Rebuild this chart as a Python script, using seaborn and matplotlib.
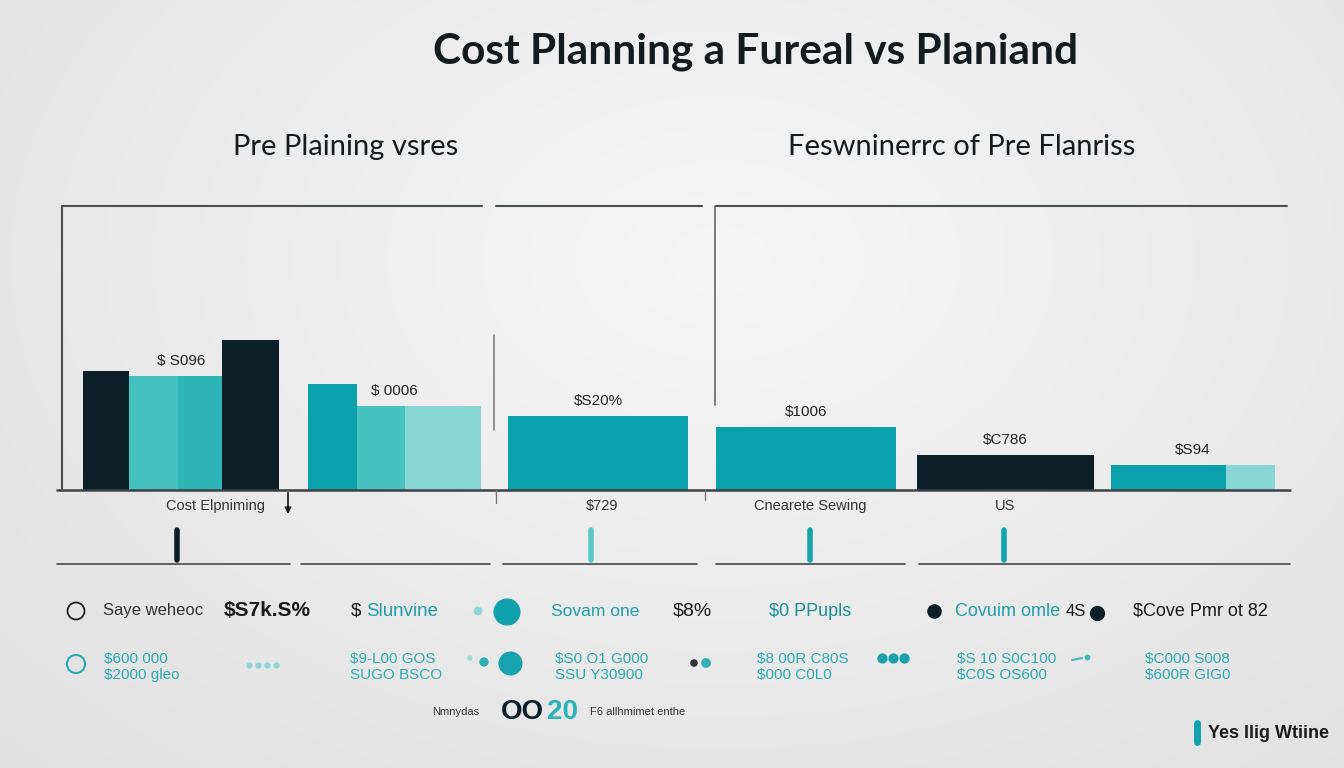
import numpy as np
import matplotlib
matplotlib.use('Agg')
import matplotlib.pyplot as plt
import seaborn as sns

TITLE = 'Cost Planning a Fureal vs Planiand'
SUBTITLES = ['Pre Plaining vsres', 'Feswninerrc of Pre Flanriss']

# bar segments: group, kind, x extent on the chart scale, cost ($k)
seg_group = [0, 0, 0, 0, 1, 1, 1, 2, 3, 4, 5, 5]
seg_kind = ['at_need', 'pre_a', 'pre_b', 'at_need', 'plan', 'pre_a', 'pre_c',
            'plan', 'plan', 'at_need', 'plan', 'pre_c']
seg_start = [23, 69, 118, 162, 248, 297, 345, 448, 656, 857, 1051, 1166]
seg_span = [46, 49, 44, 57, 49, 48, 76, 180, 180, 177, 115, 49]
seg_cost = [5.95, 5.7, 5.7, 7.5, 5.3, 4.2, 4.2, 3.7, 3.15, 1.75, 1.25, 1.25]
group_labels = ['$ S096', '$ 0006', '$S20%', '$1006', '$C786', '$S94']

sub_labels = ['Cost Elpniming', '$729', 'Cnearete Sewing', 'US']

row1_texts = ['Saye weheoc', '$S7k.S%', 'Slunvine', 'Sovam one', '$8%',
              '$0 PPupls', 'Covuim omle', '4S', '$Cove Pmr ot 82']
row2_texts = ['$600 000\n$2000 gleo', '$9-L00 GOS\nSUGO BSCO', '$S0 O1 G000\nSSU Y30900',
              '$8 00R C80S\n$000 C0L0', '$S 10 S0C100\n$C0S OS600', '$C000 S008\n$600R GIG0']
row3_texts = ['Nmnydas', 'OO', '20', 'F6 allhmimet enthe']
corner_text = 'Yes llig Wtiine'

DARK = '#0c1f29'
TEAL = '#0aa1ad'
TEXT_TEAL = '#1f9fa9'
KIND_COLORS = {'at_need': DARK, 'plan': TEAL, 'pre_a': '#45c1c0',
               'pre_b': '#2db6b5', 'pre_c': '#88d6d5'}

sns.set_theme(style='white')
plt.rcParams['font.family'] = ['Liberation Sans', 'DejaVu Sans']

W, H = 1344, 768
fig = plt.figure(figsize=(13.44, 7.68), dpi=100)

# background: soft radial gradient
bg = fig.add_axes([0, 0, 1, 1], zorder=0)
yy, xx = np.mgrid[0:H, 0:W]
r = np.sqrt(((xx - 720) / 900.0) ** 2 + ((yy - 260) / 620.0) ** 2)
shade = np.clip(0.965 - 0.075 * r, 0.86, 0.97)
bg.imshow(np.dstack([shade, shade, shade + 0.003]).clip(0, 1), aspect='auto',
          extent=[0, W, H, 0])
bg.axis('off')

# bar chart
ax = fig.add_axes([60 / W, 1 - 490 / H, 1230 / W, 284 / H], zorder=2)
ax.set_facecolor('none')
ax.bar(seg_start, seg_cost, width=seg_span, align='edge',
       color=[KIND_COLORS[k] for k in seg_kind], linewidth=0)
ax.set_xlim(0, 1230)
ax.set_ylim(0, 14.2)
ax.set_xticks([])
ax.set_yticks([])
for s in ax.spines.values():
    s.set_visible(False)

groups = np.array(seg_group)
starts = np.array(seg_start)
ends = starts + np.array(seg_span)
costs = np.array(seg_cost)
for g, lab in enumerate(group_labels):
    m = groups == g
    cx = (starts[m].min() + ends[m].max()) / 2
    ax.text(cx, costs[m].min() + 0.75, lab, ha='center', va='center',
            fontsize=11, color='#222222')

# overlay in pixel coordinates for frame lines and annotations
ov = fig.add_axes([0, 0, 1, 1], zorder=3)
ov.set_xlim(0, W)
ov.set_ylim(H, 0)
ov.axis('off')
ov.set_facecolor('none')

line_c = '#4a4f52'
ov.plot([57, 1290], [490, 490], color='#3c4245', lw=1.8)
ov.plot([62, 62], [206, 490], color=line_c, lw=1.5)
for x0, x1 in [(62, 482), (496, 702), (716, 1287)]:
    ov.plot([x0, x1], [206, 206], color=line_c, lw=1.5)
ov.plot([494, 494], [335, 430], color='#777777', lw=1.1)
ov.plot([715, 715], [206, 405], color='#666666', lw=1.2)
ov.plot([496, 496], [490, 503], color='#777777', lw=1)
ov.plot([705, 705], [490, 500], color='#777777', lw=1)
ov.annotate('', xy=(288, 517), xytext=(288, 490),
            arrowprops=dict(arrowstyle='-|>', color='#222222', lw=1.3, mutation_scale=9))

for txt, x in zip(sub_labels, [216, 602, 810, 1005]):
    ov.text(x, 506, txt, ha='center', va='center', fontsize=10.5, color='#333333')

for x, c in [(177, DARK), (591, '#5cc8c9'), (810, '#15a3ae'), (1004, '#15a3ae')]:
    ov.plot([x, x], [530, 560], color=c, lw=4, solid_capstyle='round')
for x0, x1 in [(57, 290), (301, 490), (503, 697), (716, 905), (919, 1290)]:
    ov.plot([x0, x1], [564, 564], color='#555555', lw=1.3)

# legend-like rows
y1 = 611
ov.scatter([76], [y1], s=150, facecolors='none', edgecolors='#222222', linewidths=1.3)
ov.text(103, y1, row1_texts[0], va='center', fontsize=12, color='#333333')
ov.text(224, y1, row1_texts[1], va='center', fontsize=15, fontweight='bold', color='#1a1a1a')
ov.text(351, y1, '$', va='center', fontsize=13.5, color='#1a1a1a')
ov.text(366, y1, row1_texts[2], va='center', fontsize=13.5, color=TEXT_TEAL)
sns.scatterplot(x=[478, 507], y=[y1, y1 + 1], size=[1, 2], sizes=(40, 380),
                hue=[0, 1], palette=['#8fd6d6', '#11a1ad'], legend=False, ax=ov,
                linewidth=0)
ov.text(551, y1, row1_texts[3], va='center', fontsize=12.5, color=TEXT_TEAL)
ov.text(673, y1, row1_texts[4], va='center', fontsize=14, color='#1a1a1a')
ov.text(769, y1, row1_texts[5], va='center', fontsize=13, color='#1b8f99')
ov.scatter([934], [y1], s=110, color=DARK, linewidths=0)
ov.text(955, y1, row1_texts[6], va='center', fontsize=13, color=TEXT_TEAL)
ov.text(1066, y1, row1_texts[7], va='center', fontsize=12, color='#1a1a1a')
ov.scatter([1097], [y1 + 2], s=120, color=DARK, linewidths=0)
ov.text(1133, y1, row1_texts[8], va='center', fontsize=13, color='#1a1a1a')

y2 = 667
ov.scatter([76], [y2 - 3], s=170, facecolors='none', edgecolors='#2aa9b1', linewidths=1.5)
for txt, x in zip(row2_texts, [104, 350, 555, 757, 957, 1145]):
    ov.text(x, y2, txt, va='center', fontsize=11, color='#2aa9b1', linespacing=1.25)
ov.scatter([249, 258, 267, 276], [665] * 4, s=20, color='#8fd3d3', linewidths=0)
ov.scatter([470, 484], [658, 662], s=[15, 45], color=['#9fd8d8', '#33b0b6'], linewidths=0)
ov.scatter([510], [663], s=300, color='#17a3ad', linewidths=0)
ov.scatter([694, 706], [663, 663], s=[30, 50], color=['#333333', '#33b0b6'], linewidths=0)
ov.scatter([882, 893, 904], [658] * 3, s=55, color='#1aa0ab', linewidths=0)
ov.plot([1072, 1082], [660, 658], color='#46b4ba', lw=1.5)
ov.scatter([1087], [657], s=18, color='#46b4ba', linewidths=0)

y3 = 712
ov.text(432, y3, row3_texts[0], va='center', fontsize=8, color='#333333')
ov.text(522, y3, row3_texts[1], ha='center', va='center', fontsize=20,
        fontweight='bold', color=DARK)
ov.text(562, y3, row3_texts[2], ha='center', va='center', fontsize=20,
        fontweight='bold', color='#2bb3b8')
ov.text(590, y3, row3_texts[3], va='center', fontsize=8, color='#333333')

ov.plot([1197, 1197], [723, 742], color='#11a1ad', lw=5)
ov.text(1208, 733, corner_text, va='center', fontsize=13, fontweight='bold', color='#1a1a1a')

# titles
ov.text(756, 52, TITLE, ha='center', va='center', fontsize=30.5, fontweight='bold',
        family=['Lato', 'DejaVu Sans'], color='#141b1f')
ov.text(346, 147, SUBTITLES[0], ha='center', va='center', fontsize=21,
        family=['Lato', 'DejaVu Sans'], color='#141b1f')
ov.text(962, 147, SUBTITLES[1], ha='center', va='center', fontsize=21,
        family=['Lato', 'DejaVu Sans'], color='#141b1f')

fig.savefig('out.png', dpi=100)
